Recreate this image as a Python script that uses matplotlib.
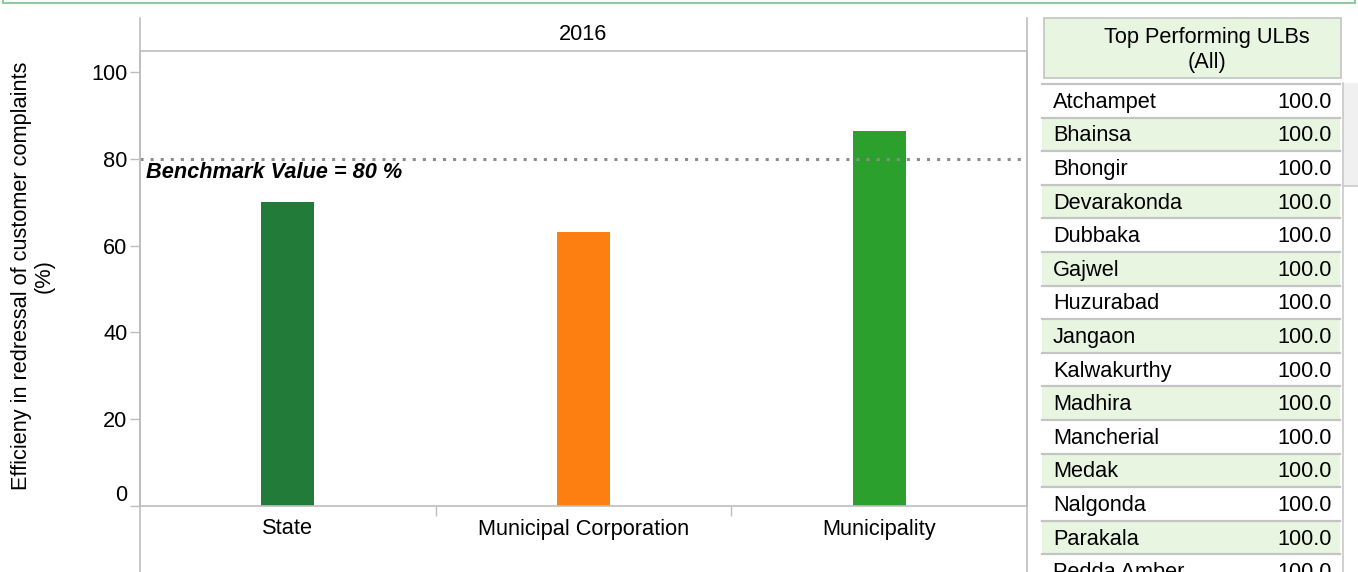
import matplotlib
matplotlib.use("Agg")
import matplotlib.pyplot as plt
from matplotlib.patches import Rectangle

plt.rcParams['font.family'] = ['Liberation Sans', 'DejaVu Sans']

# ---- data ----
categories = ["State", "Municipal Corporation", "Municipality"]
values = [70.0, 63.2, 86.4]
bar_colors = ["#237b39", "#fd7f12", "#2ca02c"]
year_label = "2016"
benchmark = 80
benchmark_label = "Benchmark Value = 80 %"
y_ticks = [0, 20, 40, 60, 80, 100]
y_label = "Efficieny in redressal of customer complaints\n(%)"
table_title = "Top Performing ULBs\n(All)"
ulb_names = ["Atchampet", "Bhainsa", "Bhongir", "Devarakonda", "Dubbaka", "Gajwel",
             "Huzurabad", "Jangaon", "Kalwakurthy", "Madhira", "Mancherial", "Medak",
             "Nalgonda", "Parakala", "Pedda Amber"]
ulb_values = [100.0] * 15

W, H = 1358, 572
fig = plt.figure(figsize=(W / 100, H / 100), dpi=100)

GRID = "#bdbdbd"
FS = 15.7

# chart axes (pixel geometry)
x0, x1 = 140, 1027
y_top, y_zero = 51, 506
ppu = 4.34
ax = fig.add_axes([x0 / W, (H - y_zero) / H, (x1 - x0) / W, (y_zero - y_top) / H])
ax.set_xlim(-0.5, 2.5)
ax.set_ylim(0, (y_zero - y_top) / ppu)
ax.bar(range(len(categories)), values, width=0.18, color=bar_colors, zorder=2)
ax.axhline(benchmark, color="#8c8c8c", lw=2.2, linestyle=(0, (1, 2.3)), zorder=3)

for s in ["left", "bottom", "top", "right"]:
    ax.spines[s].set_color(GRID)
    ax.spines[s].set_linewidth(1.2)

ax.set_yticks(y_ticks)
ax.set_yticklabels([str(v) for v in y_ticks], fontsize=FS)
ax.tick_params(axis="y", length=7, width=1, color=GRID, pad=2)
for lbl in ax.get_yticklabels():
    if lbl.get_text() == "0":
        lbl.set_verticalalignment("bottom")
ax.set_xticks(range(len(categories)))
ax.set_xticklabels(categories, fontsize=FS)
ax.tick_params(axis="x", length=0, pad=9)
ax.set_xticks([0.5, 1.5], minor=True)
ax.tick_params(axis="x", which="minor", length=7, width=1, color=GRID)

# overlay axes in pixel coordinates
ov = fig.add_axes([0, 0, 1, 1], zorder=5)
ov.set_xlim(0, W)
ov.set_ylim(H, 0)
ov.axis("off")
ov.patch.set_alpha(0)

# top green border
ov.plot([3, W - 3], [3, 3], color="#8fcc9c", lw=1.5)
ov.plot([3, 3], [0, 3], color="#8fcc9c", lw=1.5)
ov.plot([W - 3, W - 3], [0, 3], color="#8fcc9c", lw=1.5)

# chart frame lines
ov.plot([x0, x0], [18, H], color=GRID, lw=1.2)
ov.plot([x1, x1], [18, H], color=GRID, lw=1.2)
ov.text((x0 + x1) / 2, 34, year_label, ha="center", va="center", fontsize=FS)
ov.text(146, 172, benchmark_label, ha="left", va="center", fontsize=FS,
        fontweight="bold", fontstyle="italic")

# y label
fig.text(33 / W, 1 - 276 / H, y_label, rotation=90, ha="center", va="center",
         fontsize=FS, multialignment="center", linespacing=1.1)

# table header
ov.add_patch(Rectangle((1044, 18), 297, 60, facecolor="#e8f5e0", edgecolor="#c4c4c4", lw=1.2))
ov.text(1207, 50, table_title, ha="center", va="center", fontsize=FS,
        multialignment="center", linespacing=1.3)

# table rows
row_top, row_h = 84, 33.6
for i, (name, val) in enumerate(zip(ulb_names, ulb_values)):
    top = row_top + i * row_h
    fc = "#ffffff" if i % 2 == 0 else "#e8f5e0"
    ov.add_patch(Rectangle((1042, top), 298, row_h, facecolor=fc, edgecolor="none"))
    ov.plot([1042, 1340], [top, top], color="#c4c4c4", lw=1.6)
    yc = top + row_h / 2 + 1.5
    ov.text(1053, yc, name, ha="left", va="center", fontsize=FS)
    ov.text(1332, yc, f"{val:.1f}", ha="right", va="center", fontsize=FS)

# scrollbar
ov.add_patch(Rectangle((1343, 83), 16, 103, facecolor="#f0f0f0", edgecolor="none"))
ov.plot([1343, 1343], [83, H], color="#c8c8c8", lw=1.2)
ov.plot([1343, W], [186, 186], color="#c8c8c8", lw=1.2)

fig.savefig("out.png", dpi=100)
